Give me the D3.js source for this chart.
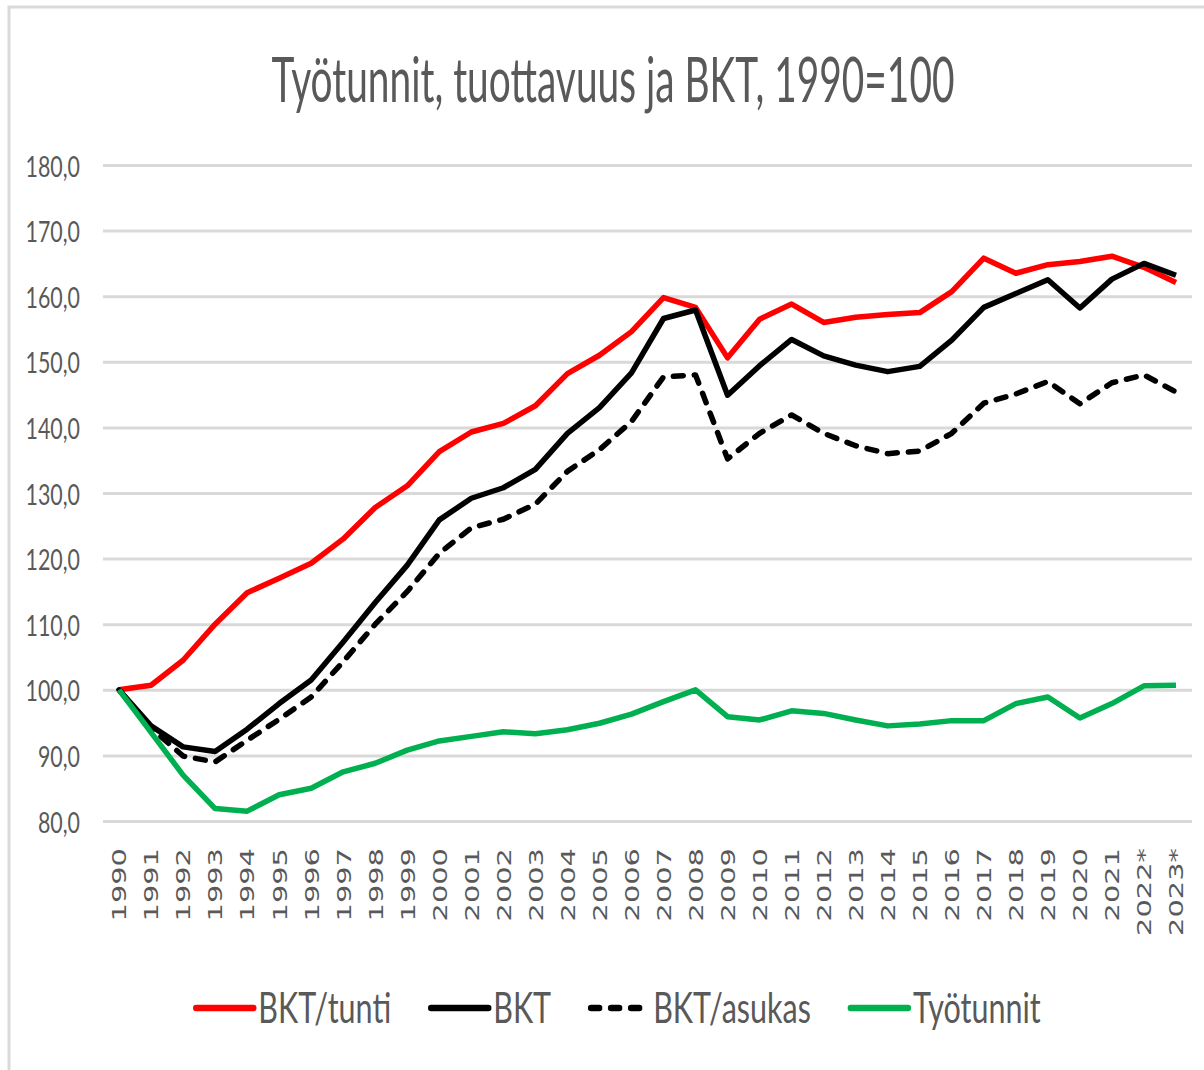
<!DOCTYPE html>
<html>
<head>
<meta charset="utf-8">
<script src="https://cdn.jsdelivr.net/npm/d3@7/dist/d3.min.js"></script>
<style>
  body { margin: 0; background: #fff; }
  text { fill: #595959; }
</style>
</head>
<body>
<svg id="chart" width="1204" height="1070"></svg>
<script>
// data (1990 = 100)
var years = ['1990', '1991', '1992', '1993', '1994', '1995', '1996', '1997', '1998', '1999',
  '2000', '2001', '2002', '2003', '2004', '2005', '2006', '2007', '2008', '2009',
  '2010', '2011', '2012', '2013', '2014', '2015', '2016', '2017', '2018', '2019',
  '2020', '2021', '2022*', '2023*'];
var bktTunti = [100, 100.7, 104.5, 110.0, 114.8, 117.0, 119.3, 123.0, 127.8, 131.1,
  136.3, 139.3, 140.6, 143.3, 148.2, 151.0, 154.6, 159.8, 158.3, 150.6,
  156.5, 158.8, 156.0, 156.8, 157.2, 157.5, 160.7, 165.8, 163.5, 164.8,
  165.3, 166.1, 164.4, 162.1];
var bkt = [100, 94.5, 91.3, 90.6, 94.0, 97.9, 101.5, 107.3, 113.3, 119.0,
  125.9, 129.2, 130.8, 133.6, 139.1, 143.0, 148.3, 156.6, 157.9, 144.9,
  149.4, 153.4, 150.9, 149.5, 148.5, 149.3, 153.3, 158.3, 160.4, 162.5,
  158.2, 162.6, 165.0, 163.2];
var bktAsukas = [100, 94.2, 89.9, 89.0, 92.3, 95.5, 98.9, 104.3, 110.0, 115.0,
  120.8, 124.7, 126.0, 128.3, 133.3, 136.6, 140.9, 147.7, 148.0, 135.2,
  139.1, 141.9, 139.1, 137.2, 136.0, 136.4, 139.1, 143.7, 145.1, 147.0,
  143.6, 146.8, 148.0, 145.4];
var tyotunnit = [100, 93.5, 87.0, 81.9, 81.5, 84.0, 85.0, 87.5, 88.8, 90.8,
  92.2, 92.9, 93.6, 93.3, 93.9, 94.9, 96.3, 98.2, 100.0, 95.9,
  95.4, 96.8, 96.4, 95.4, 94.5, 94.8, 95.3, 95.3, 97.9, 98.9,
  95.7, 97.9, 100.6, 100.7];
var yTicks = [80, 90, 100, 110, 120, 130, 140, 150, 160, 170, 180];
var seriesNames = ['BKT/tunti', 'BKT', 'BKT/asukas', 'Työtunnit'];
var chartTitle = 'Työtunnit, tuottavuus ja BKT, 1990=100';

var seriesColors = ['#ff0000', '#000000', '#000000', '#00b050'];
var seriesDash = [null, null, '10,11', null];

var svg = d3.select('#chart');
var font = 'Lato, Calibri, "Open Sans", sans-serif';
var plot = { left: 103, right: 1192, top: 165, bottom: 821 };

// frame of the chart area (only top and left edges fall inside the picture)
svg.append('path')
  .attr('d', 'M9,1070V7H1204')
  .attr('fill', 'none').attr('stroke', '#d9d9d9').attr('stroke-width', 3);

var x = d3.scalePoint().domain(years).range([plot.left, plot.right]).padding(0.5);
var y = d3.scaleLinear().domain([80, 180]).range([plot.bottom, plot.top]);

// title, squashed like the reference
var title = svg.append('text')
  .attr('text-anchor', 'middle')
  .style('font-family', font).style('font-size', '61px')
  .text(chartTitle);
var titleW = title.node().getComputedTextLength();
var squash = 683 / titleW;
title.attr('transform', 'translate(613,102) scale(' + squash + ',1)');

// grid + y axis
var yAxis = d3.axisLeft(y).tickValues(yTicks)
  .tickSize(-(plot.right - plot.left))
  .tickPadding(0)
  .tickFormat(function(d) { return d3.format('.1f')(d).replace('.', ','); });
var gy = svg.append('g').attr('transform', 'translate(' + plot.left + ',0)').call(yAxis);
gy.select('.domain').remove();
gy.selectAll('.tick line').attr('stroke', '#d9d9d9').attr('stroke-width', 3);
gy.selectAll('.tick text')
  .style('font-family', font).style('font-size', '28px')
  .attr('x', null).attr('dy', '0.36em')
  .attr('transform', 'translate(-23,1) scale(' + (squash * 1.2) + ',1)');

// x axis labels, rotated and stretched
var xAxis = d3.axisBottom(x).tickSize(0).tickPadding(0);
var gx = svg.append('g').attr('transform', 'translate(0,' + plot.bottom + ')').call(xAxis);
gx.select('.domain').remove();
gx.selectAll('.tick text')
  .style('font-family', '"DejaVu Sans", Verdana, sans-serif').style('font-size', '19px')
  .attr('y', 0).attr('dy', '0.36em')
  .attr('text-anchor', 'end')
  .attr('transform', 'translate(0,27) rotate(-90) scale(1.52,1)');

// lines
var allSeries = [bktTunti, bkt, bktAsukas, tyotunnit];
var line = d3.line()
  .x(function(d, i) { return x(years[i]); })
  .y(function(d) { return y(d); });

svg.append('g').selectAll('path')
  .data(allSeries)
  .enter().append('path')
  .attr('d', line)
  .attr('fill', 'none')
  .attr('stroke', function(d, i) { return seriesColors[i]; })
  .attr('stroke-width', 5.5)
  .attr('stroke-linejoin', 'round')
  .attr('stroke-linecap', function(d, i) { return seriesDash[i] ? 'round' : 'butt'; })
  .attr('stroke-dasharray', function(d, i) { return seriesDash[i]; });

// legend
var legend = svg.append('g');
var items = [];
seriesNames.forEach(function(name, i) {
  var g = legend.append('g');
  g.append('line')
    .attr('x1', 3).attr('x2', 60).attr('y1', 0).attr('y2', 0)
    .attr('stroke', seriesColors[i]).attr('stroke-width', 6.5)
    .attr('stroke-linecap', 'round')
    .attr('stroke-dasharray', seriesDash[i] ? '8,12' : null);
  var t = g.append('text')
    .style('font-family', font).style('font-size', '42px')
    .attr('y', 15)
    .text(name);
  var w = t.node().getComputedTextLength() * squash * 1.14;
  t.attr('transform', 'translate(65,0) scale(' + (squash * 1.14) + ',1)');
  items.push({ g: g, w: 65 + w });
});
var gap = 37;
var total = d3.sum(items, function(d) { return d.w; }) + gap * (items.length - 1);
var cx = 617 - total / 2;
items.forEach(function(it) {
  it.g.attr('transform', 'translate(' + cx + ',1008)');
  cx += it.w + gap;
});
</script>
</body>
</html>
